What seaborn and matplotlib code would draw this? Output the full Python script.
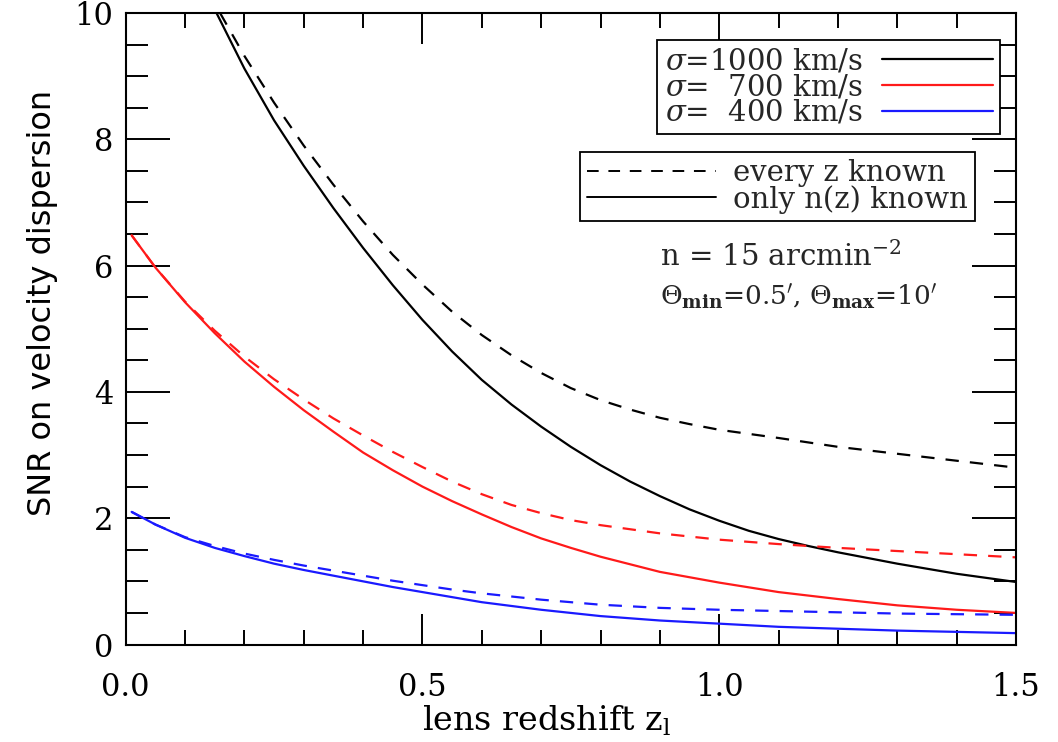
# SNR on velocity dispersion vs lens redshift, for three sigma values
import pandas as pd
import matplotlib
matplotlib.use("Agg")
import matplotlib.pyplot as plt
from matplotlib.lines import Line2D
from matplotlib.ticker import MultipleLocator, FormatStrFormatter
import seaborn as sns

# values
Z_BLACK_SOLID = [0.153, 0.2, 0.25, 0.3, 0.35, 0.4, 0.45, 0.5, 0.55, 0.6, 0.65, 0.7,
                 0.75, 0.8, 0.85, 0.9, 0.95, 1.0, 1.05, 1.1, 1.15, 1.2, 1.3, 1.4, 1.5]
SNR_BLACK_SOLID = [10.0, 9.12, 8.30, 7.58, 6.91, 6.28, 5.69, 5.14, 4.64, 4.19, 3.80, 3.45,
                   3.13, 2.84, 2.58, 2.35, 2.14, 1.96, 1.80, 1.67, 1.56, 1.46, 1.28, 1.12, 0.99]

Z_BLACK_DASH = [0.159, 0.2, 0.25, 0.3, 0.35, 0.4, 0.45, 0.5, 0.55, 0.6, 0.65, 0.7,
                0.75, 0.8, 0.85, 0.9, 0.95, 1.0, 1.1, 1.2, 1.3, 1.4, 1.5]
SNR_BLACK_DASH = [10.0, 9.32, 8.58, 7.90, 7.28, 6.70, 6.17, 5.70, 5.27, 4.90, 4.58, 4.30,
                  4.06, 3.87, 3.72, 3.59, 3.49, 3.40, 3.27, 3.13, 3.02, 2.91, 2.80]

Z_GRID = [0.01, 0.05, 0.1, 0.15, 0.2, 0.25, 0.3, 0.35, 0.4, 0.45, 0.5, 0.55, 0.6, 0.65,
          0.7, 0.75, 0.8, 0.9, 1.0, 1.1, 1.2, 1.3, 1.4, 1.5]
SNR_RED_SOLID = [6.48, 5.97, 5.42, 4.93, 4.48, 4.08, 3.71, 3.37, 3.04, 2.76, 2.50, 2.27,
                 2.06, 1.86, 1.68, 1.53, 1.39, 1.15, 0.98, 0.83, 0.72, 0.62, 0.55, 0.50]
SNR_RED_DASH = [6.48, 5.97, 5.43, 4.97, 4.56, 4.20, 3.88, 3.58, 3.31, 3.05, 2.81, 2.58,
                2.38, 2.21, 2.08, 1.97, 1.89, 1.76, 1.66, 1.59, 1.53, 1.48, 1.43, 1.38]
SNR_BLUE_SOLID = [2.10, 1.90, 1.69, 1.53, 1.40, 1.28, 1.18, 1.09, 1.00, 0.91, 0.83, 0.75,
                  0.67, 0.61, 0.55, 0.50, 0.45, 0.38, 0.33, 0.28, 0.25, 0.22, 0.20, 0.18]
SNR_BLUE_DASH = [2.10, 1.90, 1.70, 1.56, 1.44, 1.34, 1.25, 1.17, 1.09, 1.01, 0.94, 0.87,
                 0.81, 0.76, 0.71, 0.67, 0.63, 0.58, 0.55, 0.53, 0.51, 0.49, 0.48, 0.47]

SIGMAS = ["1000", "700", "400"]
SIGMA_LABELS = [r"$\sigma$=1000 km/s", r"$\sigma$=  700 km/s", r"$\sigma$=  400 km/s"]
SIGMA_COLORS = ["black", "#ff1a1a", "#1a1aff"]
METHOD_LABELS = ["every z known", "only n(z) known"]

# long-form table for seaborn
frames = []
for sig, meth, zs, ys in [
    ("1000", "every", Z_BLACK_DASH, SNR_BLACK_DASH),
    ("1000", "only", Z_BLACK_SOLID, SNR_BLACK_SOLID),
    ("700", "every", Z_GRID, SNR_RED_DASH),
    ("700", "only", Z_GRID, SNR_RED_SOLID),
    ("400", "every", Z_GRID, SNR_BLUE_DASH),
    ("400", "only", Z_GRID, SNR_BLUE_SOLID),
]:
    frames.append(pd.DataFrame({"z": zs, "snr": ys, "sigma": sig, "method": meth}))
df = pd.concat(frames, ignore_index=True)

sns.set_theme(style="ticks")
plt.rcParams["font.family"] = ["DejaVu Serif"]
plt.rcParams["mathtext.fontset"] = "dejavuserif"
plt.rcParams["axes.linewidth"] = 1.5

fig = plt.figure(figsize=(10.58, 7.42), dpi=100)
ax = fig.add_axes([0.1188, 0.1314, 0.8415, 0.8511])

sns.lineplot(data=df, x="z", y="snr", hue="sigma", style="method",
             palette=dict(zip(SIGMAS, SIGMA_COLORS)),
             dashes={"every": (6, 5), "only": ""},
             hue_order=SIGMAS, style_order=["every", "only"],
             estimator=None, sort=False, linewidth=1.6, legend=False, ax=ax)

ax.set_xlim(0, 1.5)
ax.set_ylim(0, 10)
ax.xaxis.set_major_locator(MultipleLocator(0.5))
ax.xaxis.set_minor_locator(MultipleLocator(0.1))
ax.yaxis.set_major_locator(MultipleLocator(2))
ax.yaxis.set_minor_locator(MultipleLocator(0.5))
ax.xaxis.set_major_formatter(FormatStrFormatter("%.1f"))
ax.tick_params(axis="both", which="both", direction="in", top=True, right=True,
               color="black", width=1.4, labelsize=22, labelcolor="black")
ax.tick_params(axis="x", which="major", length=22, pad=20)
ax.tick_params(axis="x", which="minor", length=11)
ax.tick_params(axis="y", which="major", length=32, pad=9)
ax.tick_params(axis="y", which="minor", length=16)
for sp in ax.spines.values():
    sp.set_color("black")

ax.set_xlabel(r"lens redshift z$_{\rm l}$", fontsize=24, color="black")
ax.xaxis.set_label_coords(0.473, -0.093)
ax.set_ylabel("SNR on velocity dispersion", fontsize=23, family="DejaVu Sans",
              color="black")
ax.yaxis.set_label_coords(-0.076, 0.541)

# sigma legend (handles on the right)
h1 = [Line2D([], [], color=c, lw=1.6) for c in SIGMA_COLORS]
leg1 = ax.legend(h1, SIGMA_LABELS, loc="upper right", bbox_to_anchor=(0.982, 0.957),
                 markerfirst=False, fontsize=21, handlelength=3.8, handletextpad=0.65,
                 labelspacing=-0.08, borderpad=0.25, borderaxespad=0,
                 fancybox=False, framealpha=1, edgecolor="black")
leg1.get_frame().set_linewidth(1.3)
ax.add_artist(leg1)

# line-style legend
h2 = [Line2D([], [], color="black", lw=1.4, dashes=(6, 5)),
      Line2D([], [], color="black", lw=1.4)]
leg2 = ax.legend(h2, METHOD_LABELS, loc="upper right", bbox_to_anchor=(0.954, 0.780),
                 fontsize=21, handlelength=4.4, handletextpad=0.6,
                 labelspacing=-0.08, borderpad=0.25, borderaxespad=0,
                 fancybox=False, framealpha=1, edgecolor="black")
leg2.get_frame().set_linewidth(1.3)

ax.text(0.600, 0.614, r"n = 15 arcmin$^{-2}$", transform=ax.transAxes,
        fontsize=21, va="center")
ax.text(0.600, 0.550, r"$\Theta_{\mathbf{min}}$=0.5$'$, $\Theta_{\mathbf{max}}$=10$'$",
        transform=ax.transAxes, fontsize=19, va="center")

fig.savefig("out.png", dpi=100)
